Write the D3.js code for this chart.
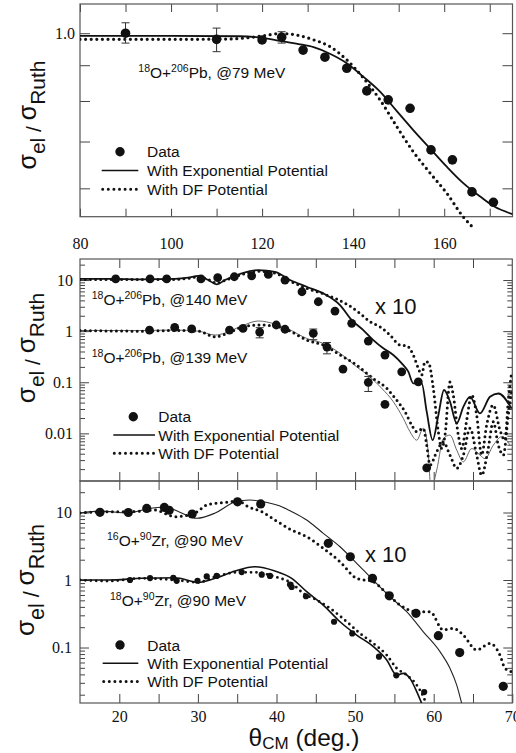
<!DOCTYPE html>
<html><head><meta charset="utf-8">
<script src="https://cdn.jsdelivr.net/npm/d3@7"></script>
<style>body{margin:0;background:#fff}svg{display:block}</style>
</head><body>
<svg id="c" width="516" height="753"></svg>
<script>
// ---------- DATA ----------
// Panel 1: 18O+206Pb @79 MeV  [angle(deg), sigma/sigmaRuth]
const p1Data = [[90,1.0],[110,0.98],[120,0.978],[124.3,0.987],[129,0.946],[133.8,0.924],[138.6,0.891],[143,0.827],[147.7,0.803],[152.5,0.781],[157.1,0.681],[161.8,0.659],[166.1,0.593],[170.8,0.573]];
const p1Err = [[90,0.968,1.035],[110,0.941,1.017],[124.3,0.968,1.005]];
const p1Exp = [[80,0.991],[100,0.991],[115,0.99],[120,0.985],[124,0.975],[128,0.965],[131.3,0.955],[135,0.934],[138.6,0.906],[142,0.869],[145.9,0.825],[149.5,0.775],[153.2,0.727],[157,0.683],[160.6,0.644],[164,0.612],[167.9,0.584],[171,0.565],[175,0.551]];
const p1DF = [[80,0.98],[100,0.98],[112,0.981],[116,0.984],[120,0.991],[124,0.999],[127.6,0.994],[131,0.98],[134.9,0.957],[138.6,0.916],[142.3,0.862],[145.9,0.803],[149.6,0.735],[153.2,0.677],[156.9,0.631],[160.6,0.59],[164.2,0.546],[166,0.53]];

// Panel 2: 18O+206Pb @140 MeV (x10) and @139 MeV
const p2aData = [[19.54,10.5],[23.91,10.5],[26.03,10.5],[30.39,10.5],[32.52,11.1],[34.63,11.6],[36.84,12.1],[38.96,12.9],[41.08,10.0],[43.24,5.9],[45.32,3.76],[47.44,2.47],[49.57,1.42],[51.68,0.64],[53.8,0.34],[55.93,0.16],[58.04,0.102]];
const p2bData = [[23.84,1.05],[27.05,1.18],[29.21,1.11],[34.02,1.05],[35.74,1.13],[37.86,0.96],[39.97,1.32],[41.08,1.09],[44.68,0.906],[46.42,0.489],[48.46,0.181],[51.68,0.0995],[53.8,0.037],[59.11,0.00212]];
const p2bErr = [[37.86,0.74,1.17],[44.68,0.68,1.1],[46.42,0.36,0.6],[51.68,0.066,0.13]];
const p2aExp = [[15,10.5],[18.6,10.5],[22.85,10.3],[27.09,10.5],[28.78,11.1],[30.05,12.1],[31.32,10.0],[32.39,8.24],[33.45,10.0],[35.57,13.5],[37.68,15.7],[39.81,14.5],[41.72,10.0],[43.84,7.39],[45.95,5.49],[48.08,3.24],[49.57,1.65],[51.04,1.05],[52.32,0.667],[53.59,0.461],[54.86,0.342],[55.93,0.235],[56.77,0.161],[57.4,0.0954],[58.47,0.0954],[59.11,0.0266],[59.87,0.00737],[60.59,0.0226],[61.31,0.0705],[62.07,0.0419],[62.93,0.0157],[63.77,0.033],[64.62,0.0519],[65.89,0.0246],[67.16,0.0519],[68.22,0.0603],[69.92,0.0305]];
const p2aDF = [[15,10.3],[18.6,10.3],[22.85,10.2],[27.09,10.3],[28.78,10.8],[30.05,11.5],[31.32,10.2],[32.39,8.7],[33.45,9.8],[35.57,12.8],[37.68,14.8],[39.81,13.6],[41.72,9.56],[43.84,6.88],[46.39,5.09],[49.13,3.24],[50.62,2.23],[51.9,1.53],[53.17,1.22],[54.44,0.838],[55.71,0.536],[56.56,0.52],[57.4,0.342],[58.04,0.188],[58.47,0.139],[58.89,0.252],[59.31,0.248],[59.95,0.0763],[60.59,0.0107],[61.02,0.00505],[61.44,0.00925],[62.07,0.101],[62.49,0.0563],[63.13,0.00925],[63.56,0.00505],[64.2,0.0183],[64.83,0.0563],[65.47,0.0226],[66.1,0.00376],[66.74,0.0146],[67.58,0.036],[68.43,0.0116],[69.07,0.0074],[69.49,0.0449],[69.92,0.158]];
const p2bExp = [[15,1.03],[22.85,1.03],[27.09,1.05],[30.05,1.0],[32.18,0.838],[33.45,0.92],[35.57,1.26],[37.68,1.58],[39.81,1.38],[41.5,1.1],[43.84,0.72],[45.95,0.575],[48.08,0.37],[50.2,0.2],[51.9,0.127],[53.38,0.0763],[54.86,0.0417],[56.13,0.0197],[56.98,0.0108],[57.84,0.00737],[58.68,0.0126],[59.28,0.0047],[59.66,0.0008],[60.38,0.0019],[61.22,0.0079],[62.07,0.00925],[62.93,0.0047],[63.77,0.00277],[64.83,0.00505],[65.89,0.00376],[66.53,0.0032],[67.58,0.00587],[68.65,0.0086],[69.71,0.00587]];
const p2bDF = [[15,1.03],[22.85,1.0],[27.09,1.03],[30.05,1.0],[32.18,0.774],[33.83,0.92],[35.57,1.2],[37.68,1.32],[39.81,1.26],[41.72,1.0],[43.84,0.67],[45.95,0.535],[48.08,0.342],[50.2,0.217],[52.32,0.118],[54.02,0.0763],[55.29,0.0446],[56.35,0.0266],[57.2,0.0146],[57.84,0.0108],[58.68,0.0126],[59.11,0.0059],[59.53,0.0024],[60.38,0.00436],[61.22,0.0068],[62.07,0.00376],[62.93,0.00208],[63.77,0.00376],[64.62,0.0126],[65.47,0.00376],[66.1,0.00152],[66.9,0.0047],[67.58,0.0169],[68.22,0.0059],[68.86,0.00376],[69.49,0.0228],[69.92,0.0705]];

// Panel 3: 16O+90Zr @90 MeV (x10) and 18O+90Zr @90 MeV
const p3aData = [[17.54,10.07],[21.15,10.0],[23.49,11.5],[25.73,11.9],[26.35,10.8],[29.27,9.5],[35.04,14.4],[37.99,13.4],[46.59,3.5],[49.39,2.21],[52.21,1.06],[54.35,0.583],[57.75,0.321],[60.59,0.15],[63.31,0.0843],[68.85,0.0266]];
const p3bData = [[21.36,1.0],[23.91,1.07],[26.87,1.08],[27.3,0.973],[29.95,0.976],[31.12,1.13],[32.39,1.15],[35.57,1.31],[38.12,1.2],[39.17,1.15],[41.72,0.858],[41.93,0.788],[43.75,0.575],[47.32,0.241],[49.64,0.162],[53.04,0.0731],[55.24,0.0387],[58.79,0.0219]];
const p3aExp = [[15,9.83],[17.54,10.5],[21.1,9.83],[23.5,11.3],[25.8,12.1],[27.7,10.1],[29.85,8.21],[32.2,9.83],[34.7,14.3],[36.6,15.3],[38.5,14.3],[40.8,12.0],[41.72,10.6],[43.84,7.74],[45.95,4.92],[48.08,3.11],[50.2,1.77],[52.3,1.0],[54.44,0.566],[56.56,0.339],[58.68,0.171],[60.8,0.0868],[62.07,0.0493],[62.93,0.0278],[63.56,0.0149]];
const p3aDF = [[15,9.83],[18.2,10.3],[21.4,10.3],[24.5,10.9],[27.1,8.67],[29.6,9.83],[31.3,13.2],[33.45,14.1],[35.1,14.8],[36.4,12.2],[38.1,10.3],[39.8,7.74],[41.93,5.5],[43.84,4.38],[45.95,2.95],[48.08,1.87],[50.2,1.06],[52.3,0.944],[53.6,0.711],[55.7,0.426],[57.84,0.339],[59.53,0.339],[61.22,0.182],[62.49,0.193],[63.77,0.153],[65.47,0.0919],[67.16,0.115],[68.43,0.0774],[69.07,0.0492],[69.92,0.0438]];
const p3bExp = [[15,1.0],[18.6,1.0],[22.85,1.06],[27.09,1.08],[30.05,0.924],[32.2,1.06],[34.72,1.36],[37.26,1.57],[39.8,1.36],[41.93,1.06],[43.84,0.671],[45.95,0.426],[48.08,0.241],[50.2,0.153],[52.32,0.103],[54.02,0.0655],[55.29,0.0391],[56.13,0.0414],[56.98,0.0349],[57.84,0.0222],[58.47,0.0149]];
const p3bDF = [[15,1.0],[18.6,0.966],[22.85,1.06],[27.09,1.0],[30.05,0.924],[32.2,1.12],[35.14,1.3],[37.26,1.3],[39.8,1.12],[41.93,0.893],[43.41,0.635],[45.11,0.505],[46.81,0.381],[48.93,0.241],[50.62,0.162],[52.32,0.115],[54.02,0.0774],[55.29,0.0493],[56.56,0.0391],[57.84,0.0278],[58.68,0.0187],[59.11,0.0141]];

// Tick values / labels
const x1Ticks = [80,90,100,110,120,130,140,150,160,170];
const x1Labels = [80,100,120,140,160];
const y1Ticks = [0.6,0.7,0.8,0.9,1.0];
const y1Labels = [1.0];
const x23Ticks = [20,25,30,35,40,45,50,55,60,65];
const x3Labels = [20,30,40,50,60,70];
const y2Major = [0.01,0.1,1,10];
const y3Major = [0.1,1,10];
const legendItems = ["Data","With Exponential Potential","With DF Potential"];

// ---------- DRAW ----------
const SANS = "'Liberation Sans', Arial, Helvetica, sans-serif";
const SERIF = "'Liberation Serif', 'Times New Roman', serif";
const INK = "#111";
const svg = d3.select('#c');
const defs = svg.append('defs');

const P1 = {l:80, r:512.5, t:4, b:216.7};
const P2 = {l:80, r:512.3, t:259, b:481};
const P3 = {l:80, r:512.3, t:481, b:703};

const x1 = d3.scaleLinear().domain([80,175]).range([P1.l,P1.r]);
const y1 = d3.scaleLog().domain([0.5465,1.101]).range([P1.b,P1.t]);
const x2 = d3.scaleLinear().domain([15,70]).range([P2.l,P2.r]);
const y2 = d3.scaleLog().domain([0.00117,25.8]).range([P2.b,P2.t]);
const x3 = d3.scaleLinear().domain([15,70]).range([P3.l,P3.r]);
const y3 = d3.scaleLog().domain([0.01507,29.3]).range([P3.b,P3.t]);

function minorVals(scale){
  const [a,b] = scale.domain(); const out=[];
  for(let e=-4;e<=2;e++) for(let m=2;m<=9;m++){const v=m*Math.pow(10,e); if(v>=a&&v<=b) out.push(v);}
  return out;
}

function styleAxis(g, font, size){
  g.select('.domain').remove();
  g.selectAll('.tick line').attr('stroke','#444').attr('stroke-width',1);
  g.attr('font-family',font).attr('font-size',size);
  g.selectAll('.tick text').attr('fill',INK);
}

function clipFor(P, id, extraBottom){
  defs.append('clipPath').attr('id',id).append('rect')
    .attr('x',P.l).attr('y',P.t).attr('width',P.r-P.l).attr('height',P.b-P.t+(extraBottom||0));
}

// Axes panel 1
svg.append('g').attr('transform',`translate(0,${P1.b})`)
  .call(d3.axisBottom(x1).tickValues(x1Ticks).tickSize(-8).tickPadding(20.5).tickFormat(d=>x1Labels.includes(d)?d:''))
  .call(g=>styleAxis(g,SERIF,16));
svg.append('g').attr('transform',`translate(0,${P1.t})`)
  .call(d3.axisTop(x1).tickValues(x1Ticks).tickSize(-8).tickFormat(''))
  .call(g=>styleAxis(g,SERIF,16));
svg.append('g').attr('transform',`translate(${P1.l},0)`)
  .call(d3.axisLeft(y1).tickValues(y1Ticks).tickSize(-10).tickPadding(5).tickFormat(d=>y1Labels.includes(d)?d3.format('.1f')(d):''))
  .call(g=>styleAxis(g,SERIF,16));
svg.append('g').attr('transform',`translate(${P1.r},0)`)
  .call(d3.axisRight(y1).tickValues(y1Ticks).tickSize(-10).tickFormat(''))
  .call(g=>styleAxis(g,SERIF,16));

// Axes panels 2 & 3
function logAxes(P, x, y, majors, labelFmt, pad){
  svg.append('g').attr('transform',`translate(${P.l},0)`)
    .call(d3.axisLeft(y).tickValues(majors).tickSize(-9).tickPadding(pad).tickFormat(labelFmt))
    .call(g=>styleAxis(g,SERIF,16));
  svg.append('g').attr('transform',`translate(${P.l},0)`)
    .call(d3.axisLeft(y).tickValues(minorVals(y)).tickSize(-5).tickFormat(''))
    .call(g=>styleAxis(g,SERIF,16));
  svg.append('g').attr('transform',`translate(${P.r},0)`)
    .call(d3.axisRight(y).tickValues(majors).tickSize(-9).tickFormat(''))
    .call(g=>styleAxis(g,SERIF,16));
  svg.append('g').attr('transform',`translate(${P.r},0)`)
    .call(d3.axisRight(y).tickValues(minorVals(y)).tickSize(-5).tickFormat(''))
    .call(g=>styleAxis(g,SERIF,16));
  svg.append('g').attr('transform',`translate(0,${P.t})`)
    .call(d3.axisTop(x).tickValues(x23Ticks).tickSize(-9).tickFormat(''))
    .call(g=>styleAxis(g,SERIF,16));
}
const logFmt = d => d>=1 ? d3.format('d')(d) : String(d);
logAxes(P2, x2, y2, y2Major, logFmt, 7);
svg.append('g').attr('transform',`translate(0,${P2.b})`)
  .call(d3.axisBottom(x2).tickValues(x23Ticks).tickSize(-9).tickFormat(''))
  .call(g=>styleAxis(g,SERIF,16));
logAxes(P3, x3, y3, y3Major, logFmt, 8);
svg.append('g').attr('transform',`translate(0,${P3.b})`)
  .call(d3.axisBottom(x3).tickValues(x23Ticks.concat([70])).tickSize(-9).tickPadding(8).tickFormat(d=>x3Labels.includes(d)?d:''))
  .call(g=>styleAxis(g,SERIF,16));

// Frames
[P1,P2,P3].forEach(P=>{
  svg.append('rect').attr('x',P.l).attr('y',P.t).attr('width',P.r-P.l).attr('height',P.b-P.t)
    .attr('fill','none').attr('stroke','#555').attr('stroke-width',1.2);
});

clipFor(P1,'c1',12);
clipFor(P2,'c2',0);
clipFor(P3,'c3',0);

function curve(x, y, data, clip, opt){
  const line = d3.line().x(d=>x(d[0])).y(d=>y(Math.max(d[1],1e-5))).curve(d3.curveMonotoneX);
  const p = svg.append('path').attr('d',line(data)).attr('fill','none')
    .attr('clip-path',`url(#${clip})`)
    .attr('stroke',opt.color||INK).attr('stroke-width',opt.w||1.5);
  if(opt.dot){ p.attr('stroke-dasharray',`0 ${opt.gap||5.5}`).attr('stroke-linecap','round'); }
  return p;
}
function points(x, y, data, r){
  svg.append('g').selectAll('circle').data(data).join('circle')
    .attr('cx',d=>x(d[0])).attr('cy',d=>y(d[1])).attr('r',r).attr('fill',INK);
}
function errbars(x, y, data){
  const g = svg.append('g').attr('stroke','#333').attr('stroke-width',1);
  data.forEach(d=>{
    const cx=x(d[0]);
    g.append('line').attr('x1',cx).attr('x2',cx).attr('y1',y(d[1])).attr('y2',y(d[2]));
    g.append('line').attr('x1',cx-4).attr('x2',cx+4).attr('y1',y(d[1])).attr('y2',y(d[1]));
    g.append('line').attr('x1',cx-4).attr('x2',cx+4).attr('y1',y(d[2])).attr('y2',y(d[2]));
  });
}

// Panel 1 curves
curve(x1,y1,p1Exp,'c1',{w:1.8});
curve(x1,y1,p1DF,'c1',{dot:true,w:3.2,gap:5.6});
errbars(x1,y1,p1Err);
points(x1,y1,p1Data,4.8);

// Panel 2 curves
curve(x2,y2,p2bExp,'c2',{w:1,color:'#666'});
curve(x2,y2,p2aExp,'c2',{w:1.8});
curve(x2,y2,p2aDF,'c2',{dot:true,w:3,gap:5.2});
curve(x2,y2,p2bDF,'c2',{dot:true,w:3,gap:5.2});
errbars(x2,y2,p2bErr);
points(x2,y2,p2aData,4.4);
points(x2,y2,p2bData,4.4);

// Panel 3 curves
curve(x3,y3,p3aExp,'c3',{w:1.1,color:'#222'});
curve(x3,y3,p3bExp,'c3',{w:1.6});
curve(x3,y3,p3aDF,'c3',{dot:true,w:3,gap:5.4});
curve(x3,y3,p3bDF,'c3',{dot:true,w:2.8,gap:5.4});
points(x3,y3,p3aData,4.6);
points(x3,y3,p3bData,3.1);

// Legends
function legend(cx, tx, y0, dyStep, x0, x1e){
  svg.append('circle').attr('cx',cx).attr('cy',y0).attr('r',4.7).attr('fill',INK);
  svg.append('line').attr('x1',x0).attr('x2',x1e).attr('y1',y0+dyStep).attr('y2',y0+dyStep).attr('stroke',INK).attr('stroke-width',1.6);
  svg.append('line').attr('x1',x0+1).attr('x2',x1e).attr('y1',y0+2*dyStep).attr('y2',y0+2*dyStep).attr('stroke',INK)
    .attr('stroke-width',3).attr('stroke-dasharray','0 5.6').attr('stroke-linecap','round');
  legendItems.forEach((t,i)=>{
    svg.append('text').attr('x',tx).attr('y',y0+i*dyStep+5.5).attr('font-family',SANS).attr('font-size',15.5).attr('fill',INK).text(t);
  });
}
legend(120,147,151.7,18.8,101.7,138.3);
legend(133.3,158.3,416.7,18.3,113.3,155);
legend(120,147.3,645,18.3,102.7,138.3);

// Reaction labels
function reac(x, y, a, b, c, rest){
  const t = svg.append('text').attr('x',x).attr('y',y).attr('font-family',SANS).attr('fill',INK);
  t.append('tspan').attr('font-size',10.5).attr('dy',-6).text(a);
  t.append('tspan').attr('font-size',15.5).attr('dy',6).text('O+');
  t.append('tspan').attr('font-size',10.5).attr('dy',-6).text(b);
  t.append('tspan').attr('font-size',15.5).attr('dy',6).text(c+rest);
}
reac(138.3,78,'18','206','Pb',', @79 MeV');
reac(91.7,305,'18','206','Pb',', @140 MeV');
reac(91.7,363.3,'18','206','Pb',', @139 MeV');
reac(107,546,'16','90','Zr',', @90 MeV');
reac(110,606,'18','90','Zr',', @90 MeV');

svg.append('text').attr('x',375).attr('y',314).attr('font-family',SANS).attr('font-size',22).attr('fill',INK).text('x 10');
svg.append('text').attr('x',365).attr('y',562).attr('font-family',SANS).attr('font-size',22).attr('fill',INK).text('x 10');

// Y-axis titles
function yTitle(x, y, F, S){
  const t = svg.append('text').attr('transform',`translate(${x},${y}) rotate(-90)`)
    .attr('text-anchor','middle').attr('font-family',SANS).attr('fill',INK);
  const sh = S*0.45;
  t.append('tspan').attr('font-size',F).text('σ');
  t.append('tspan').attr('font-size',S).attr('dy',sh).text('el');
  t.append('tspan').attr('font-size',S).attr('dy',-sh*0.5).text(' / ');
  t.append('tspan').attr('font-size',F).attr('dy',-sh*0.5).text('σ');
  t.append('tspan').attr('font-size',S).attr('dy',sh).text('Ruth');
}
yTitle(36,115,25,21);
yTitle(35,348,26,21);
yTitle(34,580,26,21.5);

// X-axis title
const xt = svg.append('text').attr('x',304).attr('y',745.5).attr('text-anchor','middle').attr('font-family',SANS).attr('fill',INK);
xt.append('tspan').attr('font-size',24.5).text('θ');
xt.append('tspan').attr('font-size',17).attr('dy',3.5).text('CM');
xt.append('tspan').attr('font-size',24.5).attr('dy',-3.5).text(' (deg.)');
</script>
</body></html>
